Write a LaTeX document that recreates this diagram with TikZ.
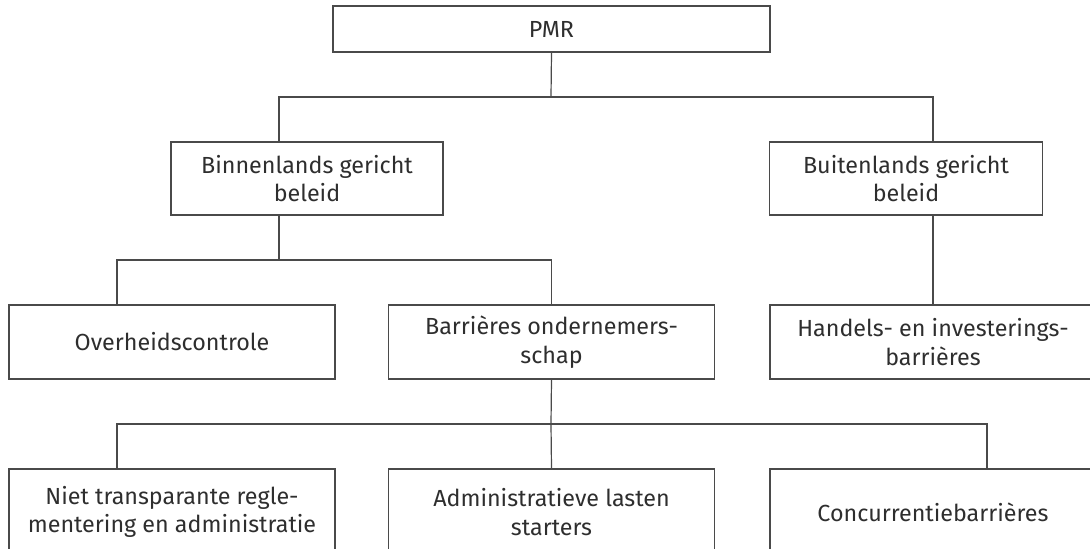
\documentclass[tikz,border=0pt]{standalone}
\usepackage{fontspec}
\setmainfont{Fira Sans}
\usepackage{tikz}

\definecolor{linegray}{HTML}{4A4A4A}
\definecolor{textgray}{HTML}{2E2E2E}

\begin{document}
\begin{tikzpicture}[x=1pt, y=-1pt,
		box/.style={draw=linegray, rectangle, line width=1.2pt, text=textgray, align=center, inner sep=0pt, minimum width=326pt, minimum height=74pt},
		link/.style={draw=linegray, line width=1.2pt},
		font=\fontsize{23.3}{28.5}\selectfont]
				\clip (0,0) rectangle (1090,549);
				
				% Top level
				\node (pmr) [box, minimum width=437pt, minimum height=46pt] at (551.5,29) {PMR};
				
				% Second level
				\node (binnen) [box, minimum width=272pt, minimum height=73pt] at (307,178.5) {Binnenlands gericht\\beleid};
				\node (buiten) [box, minimum width=273pt, minimum height=73pt] at (906,178.5) {Buitenlands gericht\\beleid};
				
				% Third level
				\node (overheid) [box] at (172,342) {Overheidscontrole};
				\node (barrieres) [box] at (551.5,342) {Barrières ondernemers-\\schap};
				\node (handels) [box] at (933,342) {Handels- en investerings-\\barrières};
				
				% Fourth level
				\node (niet) [box, minimum height=86pt] at (172,512) {Niet transparante regle-\\mentering en administratie};
				\node (admin) [box, minimum height=86pt] at (551.5,512) {Administratieve lasten\\starters};
				\node (concur) [box, minimum height=86pt] at (933,512) {Concurrentiebarrières};
				
				% Connectors
				\coordinate (split1) at (551,97);
				\coordinate (split2) at (279,260);
				\coordinate (split3) at (551,424);
				
				\draw[link] (pmr.south) -- (split1);
				\draw[link] ([xshift=-28pt]binnen.north) |- (split1) -| ([xshift=27pt]buiten.north);
				
				\draw[link] ([xshift=-28pt]binnen.south) -- (split2);
				\draw[link] ([xshift=-55pt]overheid.north) |- (split2) -| (barrieres.north);
				\draw[link] ([xshift=27pt]buiten.south) -- (handels.north);
				
				\draw[link] (barrieres.south) -- (split3);
				\draw[link] ([xshift=-55pt]niet.north) |- (split3) -| ([xshift=54pt]concur.north);
				\draw[link] (split3) -- (admin.north);
			\end{tikzpicture}
\end{document}
